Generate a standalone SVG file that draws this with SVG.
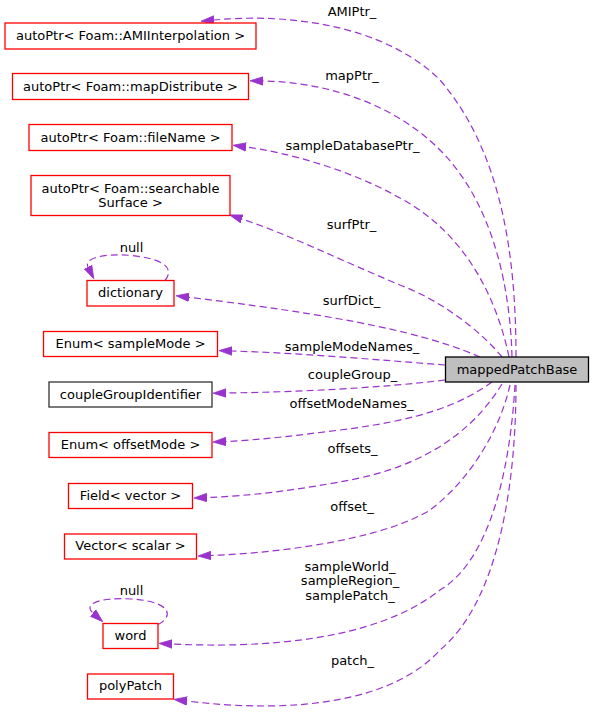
<svg xmlns="http://www.w3.org/2000/svg" width="593" height="715" viewBox="0 0 593 715">
<defs>
<style>
text{font-family:"DejaVu Sans","Liberation Sans",sans-serif;font-size:13px;fill:#000;text-anchor:middle}
.n{fill:#fff;stroke:#ff0000;stroke-width:1.3}
.k{fill:#fff;stroke:#333;stroke-width:1.3}
.m{fill:#bfbfbf;stroke:#000;stroke-width:1.3}
.e{fill:none;stroke:#9a32cd;stroke-width:1.2;stroke-dasharray:7,4;marker-end:url(#ah)}
</style>
<marker id="ah" markerUnits="userSpaceOnUse" markerWidth="14" markerHeight="11" refX="0" refY="4.5" orient="auto" viewBox="0 0 14 9">
<path d="M0,0.3 L13,4.5 L0,8.7 z" fill="#9a32cd" stroke="#9a32cd" stroke-width="0.8"/>
</marker>
</defs>
<rect width="593" height="715" fill="#fff"/>
<g id="connectors">
<path class="e" d="M516,357 C516,250 500,150 440,80 C390,30 300,12 214,20"/>
<path class="e" d="M512,357 C510,280 490,200 440,150 C390,100 320,82 263,81"/>
<path class="e" d="M509,357 C495,290 460,230 400,198 C350,170 290,153 246,147"/>
<path class="e" d="M502,357 C480,330 440,300 400,285 C340,260 290,235 242,219"/>
<path class="e" d="M480,357 C440,340 380,320 189,297.3"/>
<path class="e" d="M445,365 C380,360 300,353 232,351"/>
<path class="e" d="M445,380 C380,388 300,392 226,393"/>
<path class="e" d="M492,382 C460,405 420,420 340,430 C300,435 260,440 226,441.5"/>
<path class="e" d="M502,384 C480,420 440,460 360,478 C300,490 250,496 207,497.5"/>
<path class="e" d="M510,385 C500,430 470,480 430,510 C390,535 300,552 211,555.5"/>
<path class="e" d="M515,385 C510,470 490,560 440,590 C390,630 300,650 172,644"/>
<path class="e" d="M516,385 C516,480 500,600 440,650 C395,700 300,715 187,701"/>
<path class="e" d="M165,280.5 C172,272 172,260 132,255.5 C100,253 84,259 88,267"/>
<path class="e" d="M158,624.5 C172,618 175,602 132,599 C95,597 84,605 93,613"/>
<text x="352" y="15.5">AMIPtr_</text>
<text x="352" y="80">mapPtr_</text>
<text x="352.5" y="149.5">sampleDatabasePtr_</text>
<text x="351.5" y="228.5">surfPtr_</text>
<text x="351.5" y="305">surfDict_</text>
<text x="352" y="350.5">sampleModeNames_</text>
<text x="352.5" y="379">coupleGroup_</text>
<text x="351.5" y="407.5">offsetModeNames_</text>
<text x="352.5" y="452.5">offsets_</text>
<text x="352" y="511">offset_</text>
<text x="350" y="570.5">sampleWorld_</text>
<text x="350" y="585">sampleRegion_</text>
<text x="350" y="599.5">samplePatch_</text>
<text x="352.5" y="665">patch_</text>
<text x="131.5" y="251.5">null</text>
<text x="131.5" y="595">null</text>
</g>
<g id="mappedPatchBase"><rect class="m" x="445.5" y="357" width="143" height="25"/><text x="517" y="373.5">mappedPatchBase</text></g>
<g id="autoPtrAMI"><rect class="n" x="5" y="23" width="251" height="26"/><text x="130.5" y="40">autoPtr&lt; Foam::AMIInterpolation &gt;</text></g>
<g id="autoPtrMap"><rect class="n" x="12.5" y="73.5" width="236" height="26"/><text x="130.5" y="90.5">autoPtr&lt; Foam::mapDistribute &gt;</text></g>
<g id="autoPtrFile"><rect class="n" x="29" y="124.5" width="203" height="26"/><text x="130.5" y="141.5">autoPtr&lt; Foam::fileName &gt;</text></g>
<g id="autoPtrSurf"><rect class="n" x="31" y="175.5" width="199" height="40"/><text x="130.5" y="192.5">autoPtr&lt; Foam::searchable</text><text x="130.5" y="206.5">Surface &gt;</text></g>
<g id="dictionary"><rect class="n" x="87" y="280.5" width="87" height="25.5"/><text x="130.5" y="297">dictionary</text></g>
<g id="enumSample"><rect class="n" x="43.5" y="331.5" width="174" height="25"/><text x="130.5" y="347.5">Enum&lt; sampleMode &gt;</text></g>
<g id="coupleGroupIdentifier"><rect class="k" x="49" y="382" width="163" height="25"/><text x="130.5" y="398.5">coupleGroupIdentifier</text></g>
<g id="enumOffset"><rect class="n" x="49" y="432.5" width="163" height="25"/><text x="130.5" y="449">Enum&lt; offsetMode &gt;</text></g>
<g id="fieldVector"><rect class="n" x="68.5" y="483.5" width="124" height="25"/><text x="130.5" y="499.5">Field&lt; vector &gt;</text></g>
<g id="vectorScalar"><rect class="n" x="64.5" y="534" width="132" height="25"/><text x="130.5" y="550">Vector&lt; scalar &gt;</text></g>
<g id="word"><rect class="n" x="103" y="623.5" width="55" height="25"/><text x="130.5" y="639.5">word</text></g>
<g id="polyPatch"><rect class="n" x="87.5" y="674" width="86" height="25"/><text x="130.5" y="690">polyPatch</text></g>
</svg>
